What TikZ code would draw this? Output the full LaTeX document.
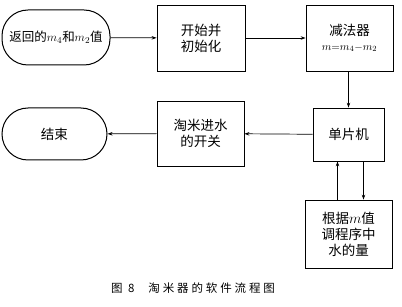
\documentclass[tikz,border=0pt]{standalone}
\usepackage{fontspec}
\newfontfamily\cjk{Noto Sans CJK SC}
\usetikzlibrary{arrows.meta}
\begin{document}
\begin{tikzpicture}[x=1pt,y=-1pt,
  every node/.style={font=\cjk\fontsize{13.5}{16}\selectfont, align=center, inner sep=0pt},
  term/.style={draw, line width=1pt, rounded corners=26pt},
  box/.style={draw, line width=0.8pt},
  arr/.style={line width=0.7pt, -{Stealth[length=5pt,width=3.5pt]}}]
\useasboundingbox (0,0) rectangle (402,307);
\node[term, minimum width=108pt, minimum height=55pt, font=\cjk\fontsize{12.5}{15}\selectfont] (start) at (56,37.5) {返回的$m_{\scriptstyle 4}$和$m_{\scriptstyle 2}$值};
\node[box, minimum width=88pt, minimum height=66pt] (init) at (201,38) {开始并\\初始化};
\node[box, minimum width=87pt, minimum height=66pt] (sub) at (349.5,38) {减法器\\[-1pt]{\fontsize{11}{12}\selectfont$m{=}m_{4}{-}m_{2}$}};
\node[box, minimum width=71pt, minimum height=53pt] (mcu) at (348.5,134.5) {单片机};
\node[box, minimum width=87pt, minimum height=65pt] (sw) at (200.5,133.5) {淘米进水\\的开关};
\node[term, minimum width=105pt, minimum height=52pt] (end) at (54.5,134) {结束};
\node[box, minimum width=87pt, minimum height=68pt] (adj) at (348.5,234) {根据$m$值\\调程序中\\水的量};
\node[font=\cjk\fontsize{11.5}{13}\selectfont\addfontfeatures{LetterSpace=25}] (cap) at (193,288) {图 8\hspace{14pt}淘米器的软件流程图};
\draw[arr] (start) -- (init);
\draw[arr] (init) -- (sub);
\draw[arr] (sub.south -| mcu.north) -- (mcu.north);
\draw[arr] (mcu) -- (sw);
\draw[arr] (sw) -- (end);
\draw[arr] ([xshift=-11pt]adj.north) -- ([xshift=-11pt]adj.north |- mcu.south);
\draw[arr] ([xshift=15pt]mcu.south) -- ([xshift=15pt]mcu.south |- adj.north);
\end{tikzpicture}
\end{document}
